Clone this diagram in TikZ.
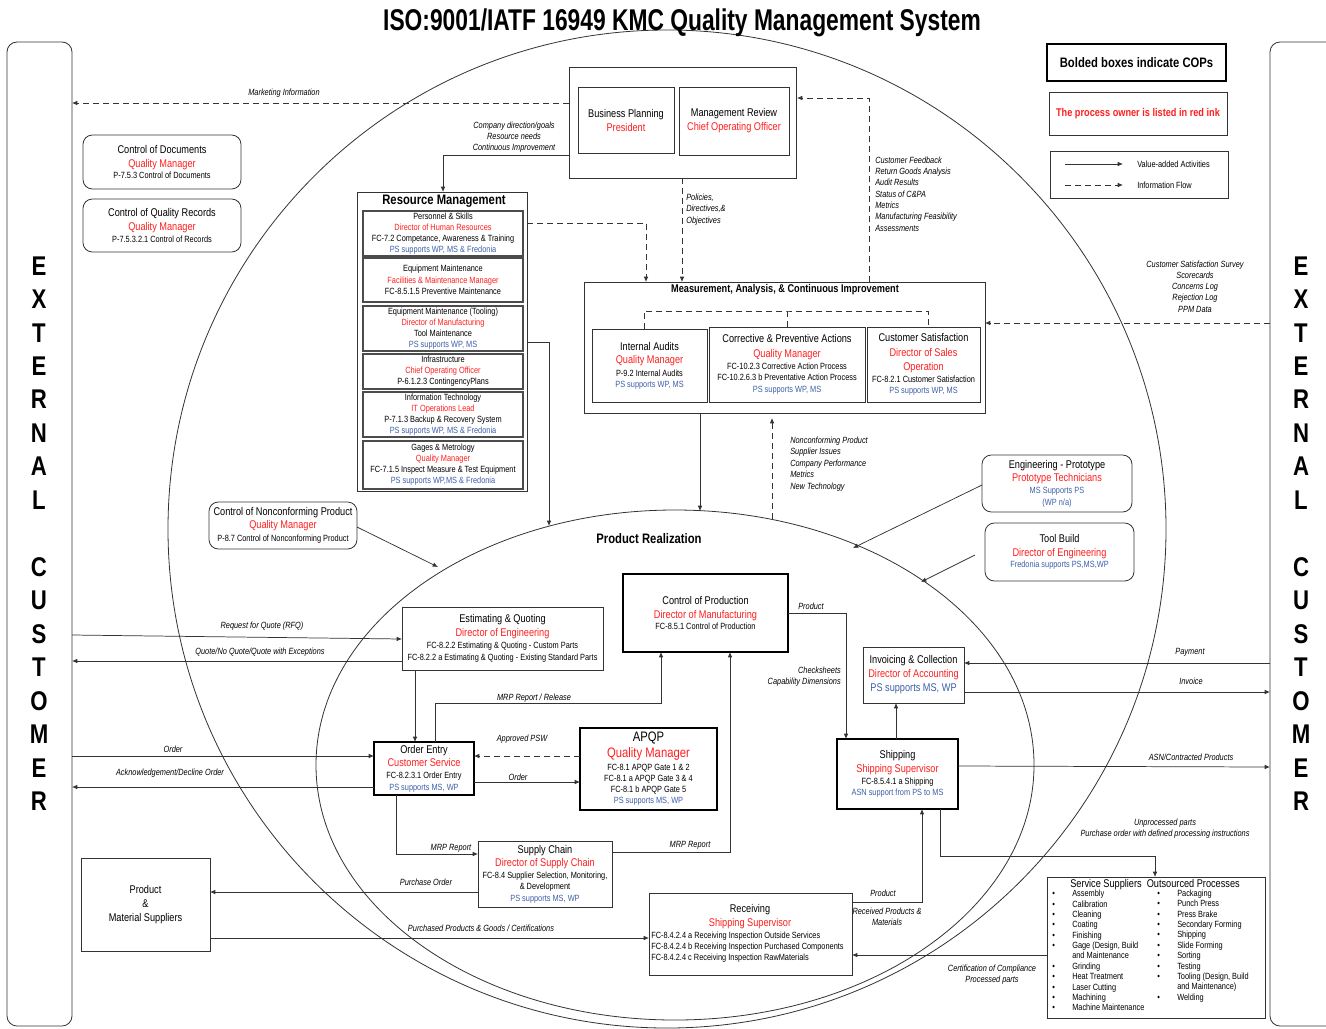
\documentclass[tikz,border=0pt]{standalone}
\usepackage{fontspec}
\setmainfont{Liberation Sans}
\newfontfamily\nrw[FakeStretch=0.82]{Liberation Sans}
\newfontfamily\ttlfont[FakeStretch=0.76]{Liberation Sans}
\usetikzlibrary{arrows.meta,fit}
\definecolor{ownred}{HTML}{FF1F1F}
\definecolor{ownblue}{HTML}{3D5FA8}
\definecolor{lin}{HTML}{333333}
\newcommand\Fsm{\nrw\fontsize{6.75}{8.25}\selectfont}
\newcommand\Fmd{\nrw\fontsize{8.4}{10.5}\selectfont}
\newcommand\Flg{\nrw\fontsize{10.3}{12}\selectfont}
\newcommand\Rd[1]{\textcolor{ownred}{#1}}
\newcommand\Bl[1]{\textcolor{ownblue}{#1}}
\newcommand\Md[1]{{\Fmd #1}}
\newcommand\Bu{\makebox[15pt][l]{\textbullet}}
\newcommand\Nb{\makebox[15pt][l]{}}
\begin{document}
\begin{tikzpicture}[x=0.75pt,y=-0.75pt,
  bx/.style={draw=lin, line width=0.6pt, fill=white, inner sep=0pt},
  tk/.style={bx, draw=black, line width=1.8pt},
  ib/.style={bx, draw=black!70, line width=1pt},
  rb/.style={bx, rounded corners=7pt},
  ar/.style={draw=lin, line width=0.55pt, -{Latex[length=4pt,width=3.4pt]}},
  da/.style={ar, dash pattern=on 4.5pt off 3pt},
  dl/.style={draw=lin, line width=0.55pt, dash pattern=on 4.5pt off 3pt},
  lb/.style={font=\Fsm\itshape, inner sep=0pt, align=center},
  tx/.style={inner sep=0pt, align=center, font=\Fsm},
  big/.style={inner sep=0pt, align=center, font=\nrw\bfseries\fontsize{20.3}{25.1}\selectfont}
]
\fill[white] (0,0) rectangle (1326,1028);
\useasboundingbox (0,0) rectangle (1326,1028);

% ---------- circles ----------
\draw[lin, line width=0.6pt] (667,529) circle [radius=499];
\draw[lin, line width=0.6pt] (675,765) ellipse [x radius=359, y radius=255];

% ---------- title ----------
\node[inner sep=0pt, anchor=base, font=\ttlfont\bfseries\fontsize{22.5}{24}\selectfont] (title) at (682,30) {ISO:9001/IATF 16949 KMC Quality Management System};

% ---------- external customer ----------
\node[bx, rounded corners=7.5pt, fit={(7,42) (72,1026)}] (extL) {};
\node[bx, rounded corners=7.5pt, fit={(1270,42) (1350,1026)}] (extR) {};
\node[big] (extLt) at (39,533.5) {E\\X\\T\\E\\R\\N\\A\\L\\[25.1pt]C\\U\\S\\T\\O\\M\\E\\R};
\node[big] (extRt) at (1301,533.5) {E\\X\\T\\E\\R\\N\\A\\L\\[25.1pt]C\\U\\S\\T\\O\\M\\E\\R};

% ---------- legend ----------
\node[tk, fit={(1047,44) (1226,81)}] (lg1) {};
\node[tx, font=\Flg\bfseries] (lg1t) at (lg1.center) {Bolded boxes indicate COPs};
\node[bx, fit={(1049,92) (1227,135)}] (lg2) {};
\node[tx, font=\Fmd\bfseries] (lg2t) at (lg2.center) {\Rd{The process owner is listed in red ink}};
\node[bx, fit={(1050,151) (1228,198)}] (lg3) {};
\coordinate (lga1) at (1065,164); \coordinate (lga2) at (1123,164);
\coordinate (lgb1) at (1065,185); \coordinate (lgb2) at (1123,185);
\draw[ar] (lga1) -- (lga2);
\draw[da] (lgb1) -- (lgb2);
\node[tx, anchor=west] (lgA) at (1137,164) {Value-added Activities};
\node[tx, anchor=west] (lgB) at (1137,185) {Information Flow};

% ---------- top boxes ----------
\node[bx, fit={(569,67) (796,178)}] (bpo) {};
\node[bx, fit={(578,87) (674,153)}] (bp) {};
\node[tx, font=\Fmd] (bpt) at (bp.center) {Business Planning\\\Rd{President}};
\node[bx, fit={(679,87) (789,155)}] (mr) {};
\node[tx, font=\Fmd] (mrt) at (mr.center) {Management Review\\\Rd{Chief Operating Officer}};

\node[rb, fit={(83,135) (241,189)}] (cdoc) {};
\node[tx] (cdoct) at (cdoc.center) {\Md{Control of Documents}\\[2pt]\Md{\Rd{Quality Manager}}\\[0.5pt]P-7.5.3 Control of Documents};
\node[rb, fit={(83,199) (241,252)}] (crec) {};
\node[tx] (crect) at (crec.center) {\Md{Control of Quality Records}\\[2pt]\Md{\Rd{Quality Manager}}\\[1pt]P-7.5.3.2.1 Control of Records};

% ---------- resource management ----------
\node[bx, fit={(357,192) (527,491)}] (rm) {};
\node[inner sep=0pt, font=\Flg\bfseries] (rmT) at (444,201) {Resource Management};
\node[ib, fit={(363,211) (523,256)}] (ps) {};
\node[tx] (pst) at (ps.center) {Personnel \& Skills\\\Rd{Director of Human Resources}\\FC-7.2 Competance, Awareness \& Training\\\Bl{PS supports WP, MS \& Fredonia}};
\node[ib, fit={(363,258) (523,302)}] (em) {};
\node[tx] (emtx) at (em.center) {Equipment Maintenance\\[0.7pt]\Rd{Facilities \& Maintenance Manager}\\FC-8.5.1.5 Preventive Maintenance};
\node[ib, fit={(363,306) (523,351)}] (emt) {};
\node[tx] (emtt) at (emt.center) {Equipment Maintenance (Tooling)\\\Rd{Director of Manufacturing}\\Tool Maintenance\\\Bl{PS supports WP, MS}};
\node[ib, fit={(363,354) (523,389)}] (inf) {};
\node[tx] (inft) at (inf.center) {Infrastructure\\\Rd{Chief Operating Officer}\\P-6.1.2.3 ContingencyPlans};
\node[ib, fit={(363,392) (523,437)}] (it) {};
\node[tx] (itt) at (it.center) {Information Technology\\\Rd{IT Operations Lead}\\P-7.1.3 Backup \& Recovery System\\\Bl{PS supports WP, MS \& Fredonia}};
\node[ib, fit={(363,441) (523,489)}] (gm) {};
\node[tx] (gmt) at (gm.center) {Gages \& Metrology\\\Rd{Quality Manager}\\FC-7.1.5 Inspect Measure \& Test Equipment\\\Bl{PS supports WP,MS \&  Fredonia}};

% ---------- measurement ----------
\node[bx, fit={(584,282) (985,413)}] (mac) {};
\node[inner sep=0pt, font=\Fmd\bfseries] (macT) at (785,290) {Measurement, Analysis, \& Continuous Improvement};
\node[bx, fit={(592,329) (707,402)}] (ia) {};
\node[tx] (iat) at (ia.center) {\Md{Internal Audits}\\[2pt]\Md{\Rd{Quality Manager}}\\[1pt]P-9.2 Internal Audits\\\Bl{PS supports WP, MS}};
\node[bx, fit={(709,327) (865,402)}] (cpa) {};
\node[tx] (cpat) at (cpa.center) {\Md{Corrective \& Preventive Actions}\\[2.5pt]\Md{\Rd{Quality Manager}}\\[1.2pt]FC-10.2.3 Corrective Action Process\\FC-10.2.6.3 b Preventative Action Process\\[0.5pt]\Bl{PS supports WP, MS}};
\node[bx, fit={(867,327) (980,402)}] (cs) {};
\node[tx] (cst) at (cs.center) {\Md{Customer Satisfaction}\\[2.5pt]\Md{\Rd{Director of Sales}}\\[2.5pt]\Md{\Rd{Operation}}\\[0.8pt]FC-8.2.1 Customer Satisfaction\\\Bl{PS supports WP, MS}};
\coordinate (j1) at (644,329); \coordinate (j2) at (787,327); \coordinate (j3) at (928,327);
\coordinate (jt) at (787,311);
\draw[dl] (j1) |- (jt) -| (j3);
\draw[dl] (jt) -- (j2);

% ---------- side boxes ----------
\node[rb, fit={(982,455) (1132,512)}] (ep) {};
\node[tx] (ept) at (ep.center) {\Md{Engineering - Prototype}\\[1.5pt]\Md{\Rd{Prototype Technicians}}\\[1pt]\Bl{MS Supports PS}\\[0.5pt]\Bl{(WP n/a)}};
\node[rb, fit={(985,523) (1134,581)}] (tb) {};
\node[tx] (tbt) at (tb.center) {\Md{Tool Build}\\[2pt]\Md{\Rd{Director of Engineering}}\\[0.5pt]\Bl{Fredonia supports PS,MS,WP}};
\node[rb, fit={(209,502) (357,549)}] (ncp) {};
\node[tx] (ncpt) at (ncp.center) {\Md{Control of Nonconforming Product}\\[1.5pt]\Md{\Rd{Quality Manager}}\\[1.5pt]P-8.7 Control of Nonconforming Product};

\node[inner sep=0pt, font=\Flg\bfseries] (prl) at (649,539) {Product Realization};

% ---------- product realization boxes ----------
\node[bx, fit={(402,607) (603,670)}] (est) {};
\node[tx] (estt) at (est.center) {\Md{Estimating \& Quoting}\\[2.2pt]\Md{\Rd{Director of Engineering}}\\[0.8pt]FC-8.2.2 Estimating \& Quoting - Custom Parts\\[0.8pt]FC-8.2.2 a Estimating \& Quoting - Existing Standard Parts};
\node[tk, fit={(623,574) (788,652)}] (cop) {};
\node[tx] (copt) at (cop.center) {\Md{Control of Production}\\[2.2pt]\Md{\Rd{Director of Manufacturing}}\\[0.5pt]FC-8.5.1 Control of Production};
\node[tk, fit={(374,742) (474,795)}] (oe) {};
\node[tx] (oet) at (oe.center) {\Md{Order Entry}\\[1.5pt]\Md{\Rd{Customer Service}}\\[0.8pt]FC-8.2.3.1 Order Entry\\[0.8pt]\Bl{PS supports MS, WP}};
\node[tk, fit={(580,728) (717,810)}] (apqp) {};
\node[tx] (apqpt) at (apqp.center) {{\Flg APQP}\\[1.5pt]{\Flg\Rd{Quality Manager}}\\[1pt]FC-8.1 APQP Gate 1 \& 2\\FC-8.1 a  APQP Gate 3 \& 4\\FC-8.1 b APQP Gate 5\\[0.5pt]\Bl{PS supports MS, WP}};
\node[bx, fit={(863,647) (964,703)}] (inv) {};
\node[tx, font=\Fmd] (invt) at (inv.center) {Invoicing \& Collection\\\Rd{Director of Accounting}\\\Bl{PS supports MS, WP}};
\node[tk, fit={(837,739) (958,809)}] (shp) {};
\node[tx] (shpt) at (shp.center) {\Md{Shipping}\\[2.2pt]\Md{\Rd{Shipping Supervisor}}\\[1pt]FC-8.5.4.1 a Shipping\\\Bl{ASN support from PS to MS}};
\node[bx, fit={(478,841) (612,907)}] (sc) {};
\node[tx] (sct) at (sc.center) {\Md{Supply Chain}\\[2.2pt]\Md{\Rd{Director of Supply Chain}}\\[0.5pt]FC-8.4 Supplier Selection, Monitoring,\\\& Development\\[0.5pt]\Bl{PS supports MS, WP}};
\node[bx, fit={(81,858) (210,951)}] (pms) {};
\node[tx, font=\Fmd] (pmst) at (pms.center) {Product\\\&\\Material Suppliers};
\node[bx, fit={(649,893) (852,975)}] (rcv) {};
\node[tx] (rcvT) at (750,917) {\Md{Receiving}\\[2.2pt]\Md{\Rd{Shipping Supervisor}}};
\node[tx, align=left, anchor=west] (rcvL) at (651,947.5) {FC-8.4.2.4 a Receiving Inspection Outside Services\\FC-8.4.2.4 b Receiving Inspection Purchased Components\\FC-8.4.2.4 c Receiving Inspection RawMaterials};

\node[bx, fit={(1047,877) (1265,1018)}] (svc) {};
\node[inner sep=0pt, font=\Fmd] (svcT) at (1155,884.5) {Service Suppliers\ \ Outsourced Processes};
\node[inner sep=0pt, align=left, anchor=north west, font=\nrw\fontsize{6.75}{7.77}\selectfont] (svcL) at (1052,890) {\Bu Assembly\\\Bu Calibration\\\Bu Cleaning\\\Bu Coating\\\Bu Finishing\\\Bu Gage (Design, Build\\\Nb and Maintenance\\\Bu Grinding\\\Bu Heat Treatment\\\Bu Laser Cutting\\\Bu Machining\\\Bu Machine Maintenance};
\node[inner sep=0pt, align=left, anchor=north west, font=\nrw\fontsize{6.75}{7.8}\selectfont] (svcR) at (1157,889.5) {\Bu Packaging\\\Bu Punch Press\\\Bu Press Brake\\\Bu Secondary Forming\\\Bu Shipping\\\Bu Slide Forming\\\Bu Sorting\\\Bu Testing\\\Bu Tooling (Design, Build\\\Nb and Maintenance)\\\Bu Welding};

% ---------- connectors (top) ----------
\coordinate (a1) at (569,103); \coordinate (a2) at (72,103);
\draw[da] (a1) -- (a2);
\coordinate (b1) at (869,282); \coordinate (b2) at (797,98);
\draw[da] (b1) |- (b2);
\coordinate (c1) at (569,155); \coordinate (c2) at (443,192);
\draw[ar] (c1) -| (c2);
\coordinate (d1) at (682,178); \coordinate (d2) at (682,282);
\draw[da] (d1) -- (d2);
\coordinate (e1) at (527,223); \coordinate (e2) at (646,282);
\draw[da] (e1) -| (e2);
\coordinate (f1) at (527,342); \coordinate (f2) at (549,526);
\draw[ar] (f1) -| (f2);
\coordinate (g1) at (700,413); \coordinate (g2) at (700,511);
\draw[ar] (g1) -- (g2);
\coordinate (h1) at (772,519); \coordinate (h2) at (772,418);
\draw[da] (h1) -- (h2);
\coordinate (i1) at (1270,323); \coordinate (i2) at (985,323);
\draw[da] (i1) -- (i2);
\coordinate (k1) at (982,485); \coordinate (k2) at (853,548);
\draw[ar] (k1) -- (k2);
\coordinate (k3) at (975,555); \coordinate (k4) at (921,582);
\draw[ar] (k3) -- (k4);
\coordinate (k5) at (357,527); \coordinate (k6) at (438,567);
\draw[ar] (k5) -- (k6);

% ---------- connectors (product realization) ----------
\coordinate (r1) at (72,635); \coordinate (r2) at (402,639);
\draw[ar] (r1) -- (r2);
\coordinate (q1) at (402,661); \coordinate (q2) at (72,661);
\draw[ar] (q1) -- (q2);
\coordinate (eo1) at (415,670); \coordinate (eo2) at (415,742);
\draw[ar] (eo1) -- (eo2);
\coordinate (m1) at (435,742); \coordinate (m2) at (661,652);
\draw[ar] (m1) -- ++(0,-39) -| (m2);
\coordinate (p1) at (788,613); \coordinate (p2) at (846,739);
\draw[ar] (p1) -| (p2);
\coordinate (s1) at (612,852); \coordinate (s2) at (730,652);
\draw[ar] (s1) -| (s2);
\coordinate (o1) at (72,756); \coordinate (o2) at (374,756);
\draw[ar] (o1) -- (o2);
\coordinate (o3) at (374,787); \coordinate (o4) at (72,787);
\draw[ar] (o3) -- (o4);
\coordinate (o5) at (474,782); \coordinate (o6) at (580,782);
\draw[ar] (o5) -- (o6);
\coordinate (o7) at (580,756); \coordinate (o8) at (474,756);
\draw[da] (o7) -- (o8);
\coordinate (o9) at (396,795); \coordinate (o10) at (478,854);
\draw[ar] (o9) |- (o10);
\coordinate (u1) at (478,892); \coordinate (u2) at (210,892);
\draw[ar] (u1) -- (u2);
\coordinate (u3) at (210,938); \coordinate (u4) at (649,938);
\draw[ar] (u3) -- (u4);
\coordinate (v1) at (852,902); \coordinate (v2) at (922,809);
\draw[ar] (v1) -| (v2);
\coordinate (v3) at (1047,955); \coordinate (v4) at (852,955);
\draw[ar] (v3) -- (v4);
\coordinate (v5) at (940,809); \coordinate (v6) at (1155,877);
\draw[ar] (v5) -- ++(0,47) -| (v6);
\coordinate (w1) at (958,766); \coordinate (w2) at (1270,767);
\draw[ar] (w1) -- (w2);
\coordinate (w3) at (896,739); \coordinate (w4) at (896,703);
\draw[ar] (w3) -- (w4);
\coordinate (w5) at (1270,663); \coordinate (w6) at (964,663);
\draw[ar] (w5) -- (w6);
\coordinate (w7) at (964,692); \coordinate (w8) at (1270,692);
\draw[ar] (w7) -- (w8);

% ---------- labels ----------
\node[lb] (lmkt) at (284,93) {Marketing Information};
\node[lb, font=\nrw\itshape\fontsize{6.75}{8.25}\selectfont] (lcd) at (514,137) {Company direction/goals\\Resource needs\\Continuous Improvement};
\node[lb, align=left, anchor=west, font=\nrw\itshape\fontsize{6.75}{8.6}\selectfont] (lpol) at (686,209.5) {Policies,\\Directives,\&\\Objectives};
\node[lb, align=left, anchor=west, font=\nrw\itshape\fontsize{6.75}{8.5}\selectfont] (lcf) at (875,194) {Customer Feedback\\Return Goods Analysis\\Audit Results\\Status of C\&PA\\Metrics\\Manufacturing Feasibility\\Assessments};
\node[lb, font=\nrw\itshape\fontsize{6.75}{8.45}\selectfont] (lcss) at (1195,286.5) {Customer Satisfaction Survey\\Scorecards\\Concerns Log\\Rejection Log\\PPM Data};
\node[lb, align=left, anchor=west, font=\nrw\itshape\fontsize{6.75}{8.6}\selectfont] (lncp) at (790,464) {Nonconforming Product\\Supplier Issues\\Company Performance\\Metrics\\New Technology};
\node[lb] (lrfq) at (262,626) {Request for Quote (RFQ)};
\node[lb] (lquo) at (260,652) {Quote/No Quote/Quote with Exceptions};
\node[lb] (lord) at (173,749) {Order};
\node[lb] (lack) at (170,773) {Acknowledgement/Decline Order};
\node[lb] (lmrr) at (534,698) {MRP Report / Release};
\node[lb] (lpsw) at (522,739) {Approved PSW};
\node[lb] (lord2) at (518,777) {Order};
\node[lb] (lprod) at (811,606) {Product};
\node[lb, align=right, anchor=east] (lchk) at (841,676.5) {Checksheets\\Capability Dimensions};
\node[lb] (lmrp1) at (451,848) {MRP Report};
\node[lb] (lmrp2) at (690,845) {MRP Report};
\node[lb] (lpo) at (426,882) {Purchase Order};
\node[lb] (lppg) at (481,928) {Purchased Products \& Goods / Certifications};
\node[lb] (lprod2) at (883,893) {Product};
\node[lb] (lrpm) at (887,916.5) {Received Products \&\\Materials};
\node[lb] (lcoc) at (992,974.5) {Certification of Compliance\\Processed parts};
\node[lb] (lunp) at (1165,828.5) {Unprocessed parts\\Purchase order with defined processing instructions};
\node[lb] (lasn) at (1191,757) {ASN/Contracted Products};
\node[lb] (lpay) at (1190,652) {Payment};
\node[lb] (linv) at (1191,681) {Invoice};
\end{tikzpicture}
\end{document}
